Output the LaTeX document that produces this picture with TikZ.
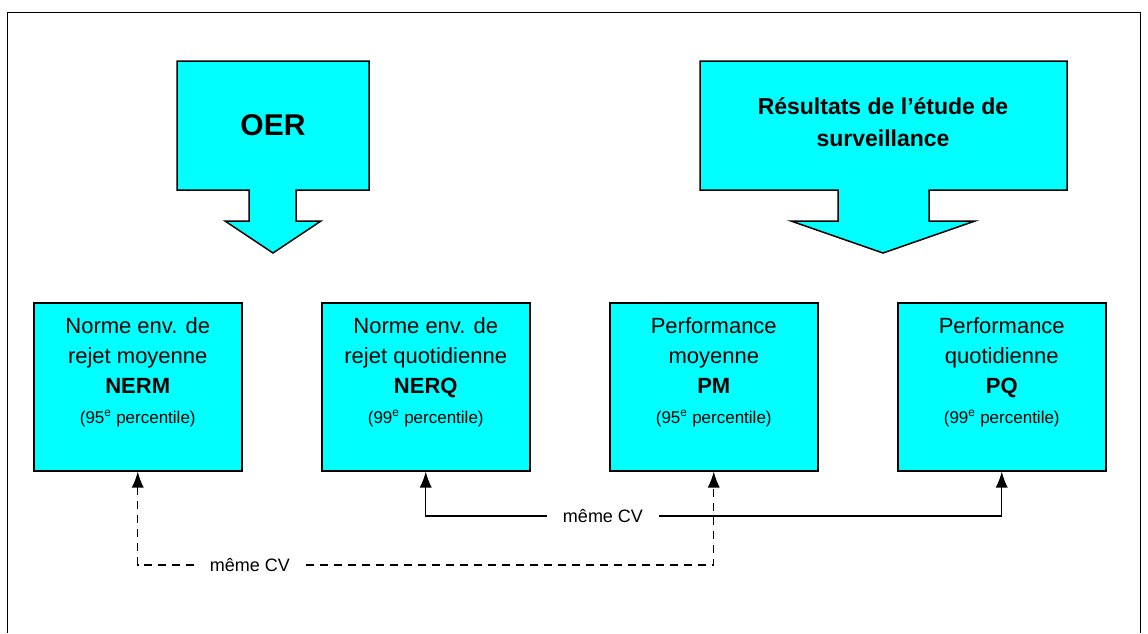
\documentclass[tikz,border=0pt]{standalone}
\usepackage{fontspec}
\setmainfont{Liberation Sans}
\usetikzlibrary{positioning,arrows.meta}
\definecolor{aqua}{HTML}{00FFFF}

\begin{document}
\begin{tikzpicture}[x=1pt,y=-1pt]
  \tikzstyle{block} = [rectangle, draw=black, line width=1.5pt, fill=aqua, minimum width=208pt, minimum height=168pt, anchor=north west, inner sep=0pt]
  \tikzstyle{blocktext} = [align=center, font=\fontsize{22}{30}\selectfont, inner sep=0pt]
  \tikzstyle{bigarrow} = [draw=black, line width=1.5pt, fill=aqua, line join=miter]
  \tikzstyle{link} = [-{Latex[length=16pt,width=12pt]}, line width=1.3pt]
  \tikzstyle{cvlabel} = [font=\fontsize{18}{20}\selectfont, inner xsep=16pt, inner ysep=0pt]
  \useasboundingbox (0,0) rectangle (1148,633);
  \draw[line width=1pt] (7,633) -- (7,12) -- (1140,12) -- (1140,633);
  % block arrows
  \draw[bigarrow] (177,61) -- (369,61) -- (369,190) -- (296,190) -- (296,221) -- (321,221) -- (273,253) -- (225,221) -- (249,221) -- (249,190) -- (177,190) -- cycle;
  \node[font=\bfseries\fontsize{30}{34}\selectfont] (oer) at (273,125) {OER};
  \draw[bigarrow] (700,61) -- (1067,61) -- (1067,190) -- (929,190) -- (929,221) -- (975,221) -- (883,253) -- (791,221) -- (838,221) -- (838,190) -- (700,190) -- cycle;
  \node[align=center, font=\bfseries\fontsize{23}{32}\selectfont] (etude) at (883,122) {Résultats de l’étude de\\surveillance};
  % boxes
  \node[block] (nerm) at (33,302) {};
  \node[block] (nerq) at (321,302) {};
  \node[block] (pm) at (609,302) {};
  \node[block] (pq) at (897,302) {};
  \node[blocktext, below=15pt of nerm.north] (nermtxt) {Norme env. de\\rejet moyenne\\\textbf{NERM}\\{\fontsize{17}{24}\selectfont (95\textsuperscript{e} percentile)}};
  \node[blocktext, below=15pt of nerq.north] (nerqtxt) {Norme env. de\\rejet quotidienne\\\textbf{NERQ}\\{\fontsize{17}{24}\selectfont (99\textsuperscript{e} percentile)}};
  \node[blocktext, below=15pt of pm.north] (pmtxt) {Performance\\moyenne\\\textbf{PM}\\{\fontsize{17}{24}\selectfont (95\textsuperscript{e} percentile)}};
  \node[blocktext, below=15pt of pq.north] (pqtxt) {Performance\\quotidienne\\\textbf{PQ}\\{\fontsize{17}{24}\selectfont (99\textsuperscript{e} percentile)}};
  % same CV links
  \node[cvlabel] (cvsolid) at (603,516) {même CV};
  \draw[link] (cvsolid.west) -| (nerq.south);
  \draw[link] (cvsolid.east) -| (pq.south);
  \node[cvlabel] (cvdash) at (250,565) {même CV};
  \draw[link, dash pattern=on 8pt off 6pt] (cvdash.west) -| (nerm.south);
  \draw[link, dash pattern=on 8pt off 6pt] (cvdash.east) -| (pm.south);
\end{tikzpicture}
\end{document}
